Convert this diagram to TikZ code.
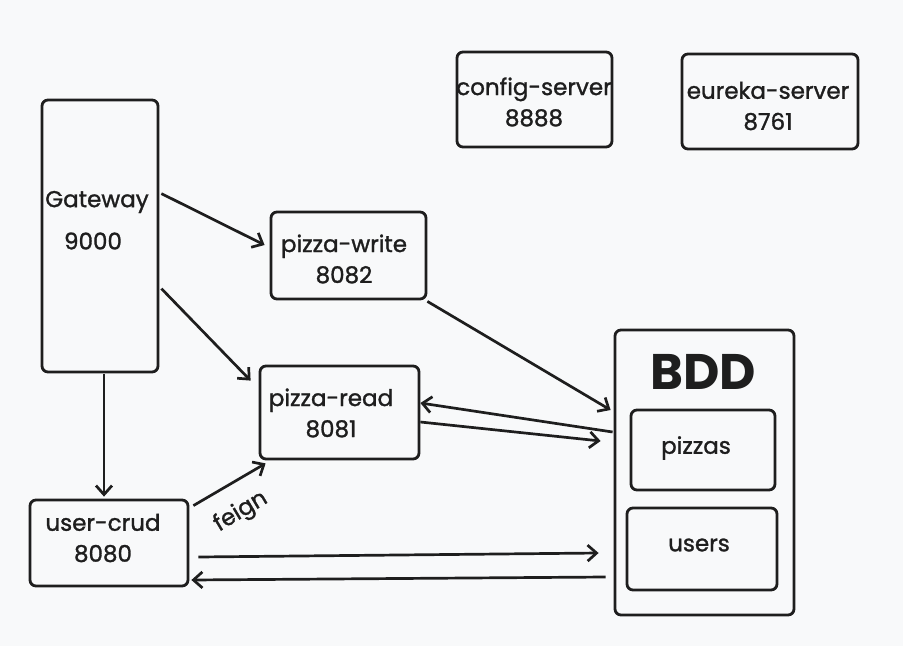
\documentclass[tikz,border=0pt]{standalone}
\usepackage{fontspec}
\setmainfont{Poppins}[UprightFeatures={FakeBold=1.3}]
\usetikzlibrary{arrows.meta,calc}
\definecolor{ink}{HTML}{1E1E1E}
\definecolor{bg}{HTML}{F8F9FA}
\begin{document}
\begin{tikzpicture}[x=1pt,y=-1pt,
  box/.style={draw=ink,line width=2.8pt,rounded corners=6pt,inner sep=0pt},
  lbl/.style={text=ink,font=\fontsize{23}{31}\selectfont,align=center,inner sep=0pt},
  conn/.style={draw=ink,line width=2.7pt,-{Straight Barb[length=9pt,width=16pt,line width=2.7pt]}}]
\fill[bg] (0,0) rectangle (903,646);
\useasboundingbox (0,0) rectangle (903,646);
% boxes
\node[box,minimum width=116pt,minimum height=272pt] (gw) at (100,236) {};
\node[lbl] (gwt) at (97,202) {Gateway};
\node[lbl] (gwn) at (93,241) {9000};
\node[box,minimum width=155pt,minimum height=95pt] (cfg) at (534.5,99.5) {};
\node[lbl] (cfgt) at (534,102) {config-server\\8888};
\node[box,minimum width=176pt,minimum height=95pt] (eur) at (770,101.5) {};
\node[lbl] (eurt) at (768,106) {eureka-server\\8761};
\node[box,minimum width=155pt,minimum height=87pt] (pw) at (348.5,255.5) {};
\node[lbl] (pwt) at (344,259) {pizza-write\\8082};
\node[box,minimum width=159pt,minimum height=93pt] (pr) at (339.5,412.5) {};
\node[lbl] (prt) at (331,413) {pizza-read\\8081};
\node[box,minimum width=158pt,minimum height=86pt] (uc) at (109,543) {};
\node[lbl] (uct) at (103,538) {user-crud\\8080};
\node[box,minimum width=179pt,minimum height=285pt] (bdd) at (704.5,472.5) {};
\node[text=ink,font=\fontsize{50}{60}\selectfont\bfseries,inner sep=0pt] (bddt) at (703,372) {BDD};
\node[box,minimum width=144pt,minimum height=80pt] (pz) at (703,450) {};
\node[lbl] (pzt) at (696,448) {pizzas};
\node[box,minimum width=150pt,minimum height=82pt] (us) at (702,549) {};
\node[lbl] (ust) at (699,545) {users};
% connectors
\draw[conn] ($(gw.north east)+(2,95)$) -- ($(pw.west)+(-5,-10.5)$);
\draw[conn] ($(gw.north east)+(2,190)$) -- ($(pr.north west)+(-8,16)$);
\draw[conn] ($(gw.south)+(4,1)$) -- ($(uc.north)+(-5,-2)$);
\draw[conn] ($(pw.south east)+(0,1)$) -- ($(bdd.west)+(-3,-62.5)$);
\draw[conn] ($(bdd.west)+(-1,-40.5)$) -- ($(pr.east)+(0,-9.5)$);
\draw[conn] ($(pr.east)+(0,9.5)$) -- ($(bdd.west)+(-13,-31.5)$);
\draw[conn] ($(uc.north east)+(4,7)$) -- ($(pr.south west)+(7,3)$);
\draw[conn] ($(uc.east)+(9,14)$) -- ($(bdd.west)+(-15,80.5)$);
\draw[conn] ($(bdd.west)+(-8,104.5)$) -- ($(uc.east)+(2,37)$);
\node[lbl,rotate=31] (feign) at (241,512) {feign};
\end{tikzpicture}
\end{document}
